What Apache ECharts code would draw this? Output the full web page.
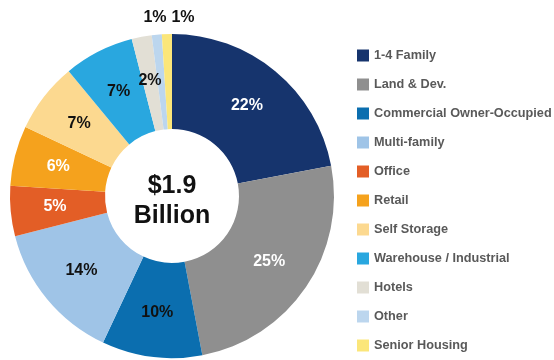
<!DOCTYPE html>
<html>
<head>
<meta charset="utf-8">
<style>
  html, body { margin: 0; padding: 0; background: #fff; }
  #chart { width: 554px; height: 360px; }
</style>
<script src="https://cdn.jsdelivr.net/npm/echarts@6/dist/echarts.min.js"></script>
</head>
<body>
<div id="chart"></div>
<script>
// Loan portfolio mix by property type (percent of total)
const categories = [
  '1-4 Family', 'Land & Dev.', 'Commercial Owner-Occupied', 'Multi-family',
  'Office', 'Retail', 'Self Storage', 'Warehouse / Industrial',
  'Hotels', 'Other', 'Senior Housing'
];
const shares = [22, 25, 10, 14, 5, 6, 7, 7, 2, 1, 1];
const colors = [
  '#16346d', '#8f8f8f', '#0b6eaf', '#9fc4e7',
  '#e35e26', '#f5a21d', '#fcd990', '#29a7df',
  '#e2dfd5', '#bcd6ee', '#fbe67a'
];
// slices whose percentage sits in white text
const lightText = ['1-4 Family', 'Land & Dev.', 'Office', 'Retail'];
// slices too thin for an inside label: horizontal shift of their label above the ring
const outsideShift = { 'Other': -17, 'Senior Housing': 11 };
const centerLines = ['$1.9', 'Billion'];

const fontFamily = '"Liberation Sans", Arial, sans-serif';
const CX = 172, CY = 196, R_IN = 67, R_OUT = 162;

const pieData = categories.map((name, i) => ({
  name: name,
  value: shares[i],
  itemStyle: { color: colors[i] },
  label: { color: lightText.includes(name) ? '#ffffff' : '#111111' }
}));

const chart = echarts.init(document.getElementById('chart'));
chart.setOption({
  animation: false,
  legend: {
    orient: 'vertical',
    left: 357,
    top: 49,
    padding: 0,
    itemWidth: 12,
    itemHeight: 12,
    itemGap: 16,
    icon: 'rect',
    selectedMode: false,
    textStyle: { color: '#595959', fontSize: 12.7, fontWeight: 'bold', fontFamily: fontFamily },
    data: categories
  },
  graphic: centerLines.map((line, i) => ({
    type: 'text',
    x: CX,
    y: 186 + i * 30,
    style: {
      text: line,
      textAlign: 'center',
      textVerticalAlign: 'middle',
      fill: '#111',
      font: 'bold 25px ' + fontFamily
    }
  })),
  series: [{
    type: 'pie',
    center: [CX, CY],
    radius: [R_IN, R_OUT],
    startAngle: 90,
    clockwise: true,
    avoidLabelOverlap: false,
    label: {
      show: true,
      position: 'inside',
      formatter: '{c}%',
      fontSize: 16,
      fontWeight: 'bold',
      fontFamily: fontFamily
    },
    labelLine: { show: false },
    labelLayout: function (params) {
      const name = categories[params.dataIndex];
      if (name in outsideShift) {
        return {
          x: CX + outsideShift[name],
          y: CY - R_OUT - 16,
          align: 'center',
          verticalAlign: 'middle',
          hideOverlap: false
        };
      }
      return {};
    },
    emphasis: { disabled: true },
    data: pieData
  }]
});
</script>
</body>
</html>
